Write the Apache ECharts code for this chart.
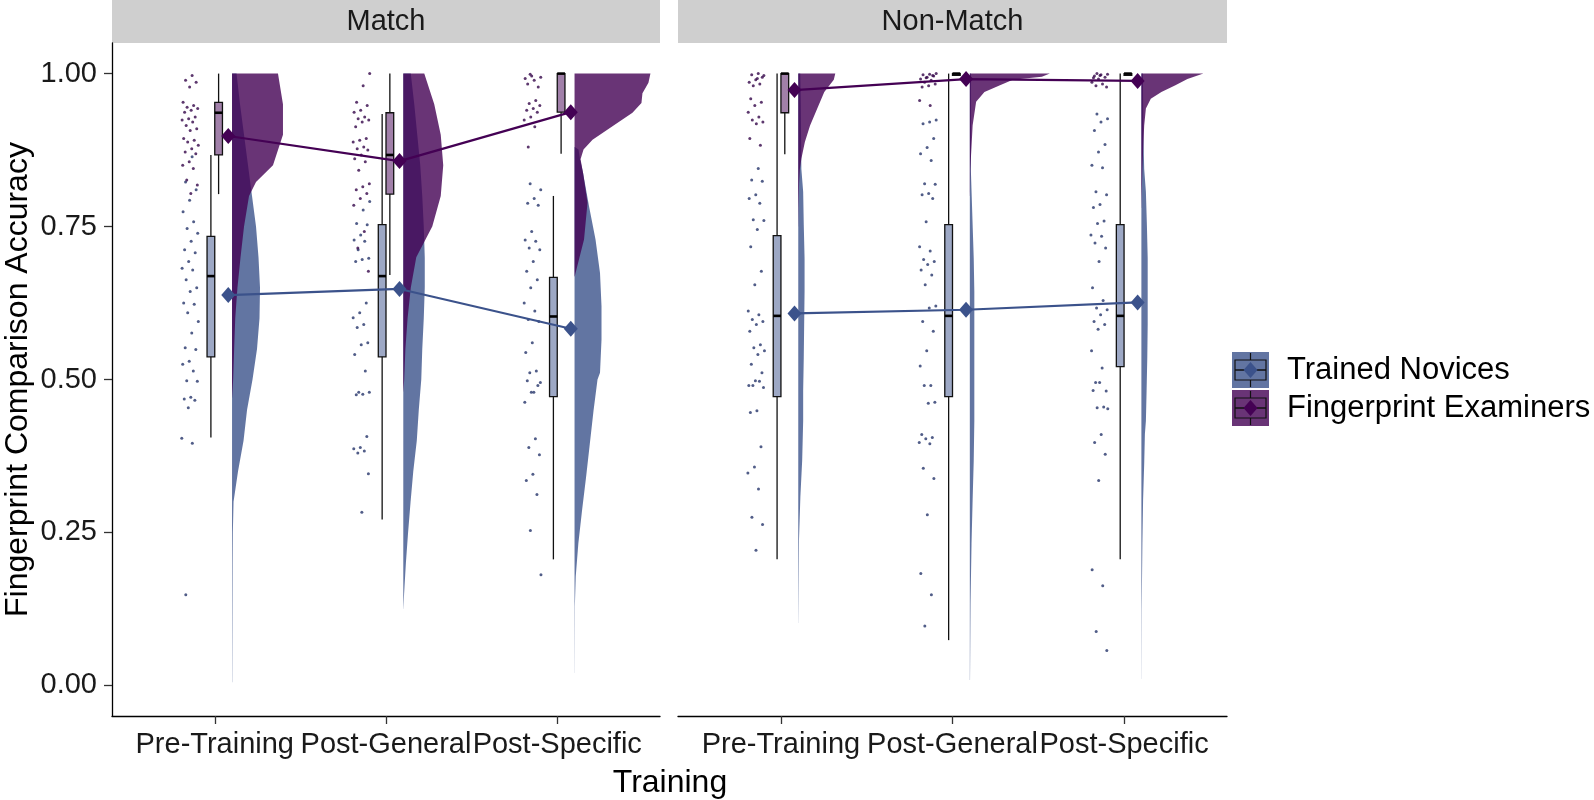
<!DOCTYPE html>
<html><head><meta charset="utf-8">
<script src="https://cdn.jsdelivr.net/npm/echarts@6.0.0/dist/echarts.min.js"></script>
<style>html,body{margin:0;padding:0;background:#fff}#c{width:1594px;height:800px}</style>
</head><body><div id="c"></div>
<script>
// ---------------- data ----------------
const categories = ['Pre-Training', 'Post-General', 'Post-Specific'];
const panels = ['Match', 'Non-Match'];
const groups = ['Trained Novices', 'Fingerprint Examiners'];
const yTicks = [0, 0.25, 0.5, 0.75, 1];

// group means
const matchNoviceMean = [0.638, 0.648, 0.583];
const matchExaminerMean = [0.898, 0.857, 0.937];
const nonMatchNoviceMean = [0.608, 0.614, 0.626];
const nonMatchExaminerMean = [0.973, 0.991, 0.988];

// box stats: [lower whisker, Q1, median, Q3, upper whisker]
const matchNoviceBox = [[0.405, 0.537, 0.669, 0.734, 0.867], [0.271, 0.537, 0.669, 0.753, 0.934], [0.206, 0.472, 0.603, 0.667, 0.800]];
const matchExaminerBox = [[0.803, 0.867, 0.936, 0.953, 1.0], [0.671, 0.803, 0.867, 0.936, 1.0], [0.869, 0.937, 1.0, 1.0, 1.0]];
const nonMatchNoviceBox = [[0.206, 0.472, 0.604, 0.735, 1.0], [0.074, 0.472, 0.604, 0.753, 1.0], [0.206, 0.521, 0.604, 0.753, 1.0]];
const nonMatchExaminerBox = [[0.868, 0.936, 1.0, 1.0, 1.0], [0.997, 0.997, 1.0, 1.0, 1.0], [0.997, 0.997, 1.0, 1.0, 1.0]];

// half-violin density profiles: [accuracy, density width]
const matchNoviceViolin = [
  [[1.0, 4.5], [0.95, 8], [0.9, 12], [0.85, 16], [0.8, 20], [0.75, 24], [0.7, 26.5], [0.65, 28], [0.6, 27.5], [0.55, 25], [0.5, 20.5], [0.45, 15], [0.4, 11.5], [0.35, 6], [0.3, 1.5], [0.25, 0.8], [0.2, 0.6], [0.1, 0.4], [0.005, 0.2]],
  [[1.0, 7.5], [0.95, 11], [0.9, 14], [0.85, 17], [0.8, 19], [0.75, 20.5], [0.7, 21.5], [0.65, 21.5], [0.6, 20.5], [0.55, 19], [0.5, 18], [0.45, 15.5], [0.4, 13.5], [0.35, 10], [0.3, 7.3], [0.25, 4.8], [0.2, 2.6], [0.15, 0.8], [0.125, 0.1]],
  [[0.88, 0.3], [0.876, 4], [0.86, 5.5], [0.838, 8.5], [0.783, 14.5], [0.729, 21], [0.674, 25.5], [0.62, 27], [0.565, 27], [0.511, 25.5], [0.5, 23], [0.449, 19], [0.395, 15.3], [0.34, 11.5], [0.286, 7.5], [0.232, 3.8], [0.178, 1.2], [0.129, 0.3], [0.02, 0.1]]
];
const matchExaminerViolin = [
  [[1.0, 46], [0.95, 51], [0.9, 51], [0.85, 41], [0.823, 24], [0.8, 17], [0.75, 12], [0.7, 8.5], [0.65, 5.4], [0.6, 3.2], [0.55, 2.1], [0.5, 1.1], [0.47, 0.1]],
  [[1.0, 21], [0.95, 31], [0.9, 37.5], [0.85, 40], [0.8, 37.5], [0.75, 29], [0.7, 13], [0.65, 7.5], [0.6, 4.3], [0.55, 2.1], [0.5, 0.9], [0.48, 0.1]],
  [[1.0, 76], [0.985, 74], [0.968, 68], [0.952, 67], [0.936, 58], [0.914, 38], [0.892, 18], [0.876, 9], [0.86, 6], [0.838, 8.5], [0.789, 13], [0.729, 9.5], [0.674, 1], [0.668, 0.1]]
];
const nonMatchNoviceViolin = [
  [[1.0, 2], [0.95, 2.5], [0.9, 2.8], [0.844, 3.1], [0.807, 4.9], [0.753, 5.5], [0.698, 6.3], [0.644, 6.3], [0.59, 5.9], [0.536, 5.5], [0.481, 4.9], [0.432, 4.9], [0.367, 3.9], [0.308, 2.1], [0.237, 0.7], [0.145, 0.3], [0.102, 0.1]],
  [[1.0, 1.2], [0.9, 1.2], [0.844, 1.0], [0.753, 2.8], [0.698, 3.9], [0.644, 4.5], [0.59, 4.5], [0.536, 4.5], [0.481, 4.5], [0.432, 4.5], [0.367, 3.9], [0.303, 2.8], [0.232, 1.7], [0.134, 0.7], [0.009, 0.2]],
  [[1.0, 1.5], [0.9, 2], [0.844, 2.8], [0.807, 4.5], [0.753, 5.5], [0.698, 6.3], [0.644, 6.3], [0.59, 6.3], [0.536, 5.9], [0.481, 5.2], [0.432, 4.5], [0.411, 3.5], [0.362, 2.8], [0.303, 1.7], [0.232, 1], [0.124, 0.3], [0.01, 0.1]]
];
const nonMatchExaminerViolin = [
  [[1.0, 37], [0.99, 35.5], [0.97, 26], [0.943, 19], [0.915, 11.8], [0.888, 6.6], [0.861, 3.1], [0.844, 1.6], [0.82, 0.8], [0.78, 0.3], [0.75, 0.1]],
  [[1.0, 80], [0.995, 72], [0.99, 43], [0.98, 29], [0.97, 14.6], [0.954, 6.3], [0.915, 2.8], [0.86, 1], [0.84, 0.5], [0.8, 0.1]],
  [[1.0, 62], [0.991, 46], [0.981, 34], [0.97, 20], [0.959, 9.4], [0.943, 4.5], [0.915, 2.8], [0.888, 2.1], [0.844, 1], [0.8, 0.3], [0.78, 0.1]]
];

// individual participant scores
const matchNoviceDots = [
  [0.864, 0.823, 0.810, 0.793, 0.774, 0.758, 0.747, 0.739, 0.726, 0.712, 0.707, 0.693, 0.682, 0.679, 0.663, 0.650, 0.644, 0.625, 0.623, 0.609, 0.595, 0.576, 0.552, 0.549, 0.530, 0.525, 0.514, 0.498, 0.497, 0.471, 0.468, 0.466, 0.454, 0.404, 0.396, 0.148],
  [0.791, 0.777, 0.755, 0.753, 0.736, 0.728, 0.726, 0.712, 0.698, 0.696, 0.693, 0.625, 0.609, 0.601, 0.590, 0.585, 0.560, 0.557, 0.541, 0.514, 0.479, 0.479, 0.476, 0.475, 0.407, 0.389, 0.387, 0.383, 0.380, 0.346, 0.283],
  [0.820, 0.810, 0.796, 0.788, 0.785, 0.742, 0.728, 0.726, 0.715, 0.712, 0.693, 0.677, 0.663, 0.650, 0.625, 0.612, 0.598, 0.595, 0.560, 0.544, 0.514, 0.511, 0.495, 0.479, 0.498, 0.490, 0.479, 0.463, 0.403, 0.389, 0.377, 0.345, 0.335, 0.312, 0.253, 0.181]
];
const matchExaminerDots = [
  [0.997, 0.989, 0.986, 0.978, 0.953, 0.948, 0.945, 0.943, 0.940, 0.937, 0.929, 0.926, 0.924, 0.921, 0.915, 0.910, 0.907, 0.894, 0.891, 0.888, 0.883, 0.877, 0.872, 0.869, 0.856, 0.850, 0.845, 0.826, 0.818, 0.804],
  [1.0, 0.980, 0.953, 0.948, 0.940, 0.937, 0.929, 0.926, 0.924, 0.921, 0.913, 0.894, 0.891, 0.888, 0.880, 0.877, 0.875, 0.867, 0.861, 0.856, 0.842, 0.820, 0.815, 0.810, 0.804, 0.796, 0.785, 0.742, 0.715, 0.677],
  [0.999, 0.994, 0.989, 0.983, 0.978, 0.996, 0.992, 0.956, 0.951, 0.948, 0.943, 0.940, 0.937, 0.929, 0.924, 0.913, 0.880]
];
const nonMatchNoviceDots = [
  [0.845, 0.826, 0.824, 0.802, 0.796, 0.788, 0.761, 0.760, 0.745, 0.717, 0.677, 0.655, 0.612, 0.606, 0.598, 0.595, 0.590, 0.579, 0.557, 0.552, 0.547, 0.541, 0.525, 0.511, 0.498, 0.490, 0.497, 0.490, 0.487, 0.449, 0.446, 0.390, 0.357, 0.347, 0.321, 0.275, 0.263, 0.221],
  [0.924, 0.921, 0.918, 0.894, 0.879, 0.869, 0.858, 0.820, 0.819, 0.804, 0.802, 0.796, 0.758, 0.717, 0.710, 0.696, 0.693, 0.688, 0.679, 0.671, 0.655, 0.620, 0.617, 0.595, 0.579, 0.547, 0.522, 0.490, 0.490, 0.463, 0.461, 0.410, 0.405, 0.403, 0.397, 0.395, 0.355, 0.338, 0.279, 0.183, 0.148, 0.097],
  [0.934, 0.926, 0.921, 0.907, 0.884, 0.872, 0.850, 0.846, 0.807, 0.802, 0.786, 0.781, 0.759, 0.755, 0.736, 0.734, 0.723, 0.715, 0.693, 0.650, 0.629, 0.617, 0.614, 0.606, 0.595, 0.590, 0.582, 0.547, 0.519, 0.495, 0.481, 0.495, 0.482, 0.455, 0.454, 0.452, 0.410, 0.397, 0.378, 0.335, 0.189, 0.163, 0.088, 0.057]
];
const nonMatchExaminerDots = [
  [1.0, 0.998, 0.994, 0.990, 0.986, 0.983, 0.980, 0.997, 0.992, 0.959, 0.953, 0.948, 0.937, 0.929, 0.924, 0.921, 0.918, 0.894, 0.883],
  [1.0, 0.999, 0.998, 0.996, 0.994, 0.991, 0.989, 0.986, 0.983, 0.980, 0.978, 0.997, 0.993, 0.956, 0.948],
  [1.0, 0.999, 0.998, 0.996, 0.994, 0.991, 0.986, 0.983, 0.980, 0.978, 0.997, 0.993]
];

// ---------------- layout / style ----------------
const NOVICE = '#3B528B', EXAMINER = '#440154';
const NOVICE_DOT = '#25346a', EXAMINER_DOT = '#35064a';
const NOVICE_VIOLIN = 'rgba(59,82,139,0.8)', EXAMINER_VIOLIN = 'rgba(68,1,84,0.8)';
const NOVICE_BOX = 'rgba(59,82,139,0.5)', EXAMINER_BOX = 'rgba(68,1,84,0.5)';
const FONT = 'Liberation Sans, Arial, sans-serif';
const MEAN_OFFSET = 0.079, VIOLIN_OFFSET = 0.101, DOT_OFFSET = -0.144, JITTER = 0.05;
const BOX_HALF = 0.0225, NOVICE_BOX_OFFSET = -0.0225, EXAMINER_BOX_OFFSET = 0.0225;
const WIDTH_SCALE = 1 / 171.5;
const GRIDS = [{ left: 112, top: 43, width: 548, height: 673 }, { left: 678, top: 43, width: 549, height: 673 }];

function violinSeries(gi, profiles, fill, z) {
  return {
    type: 'custom', xAxisIndex: gi, yAxisIndex: gi, z: z, silent: true,
    data: categories.map((c, i) => [i + 1]),
    renderItem: (params, api) => {
      const prof = profiles[params.dataIndex];
      const x0 = api.value(0) + VIOLIN_OFFSET;
      const pts = [api.coord([x0, prof[0][0]])];
      prof.forEach(p => pts.push(api.coord([x0 + p[1] * WIDTH_SCALE, p[0]])));
      pts.push(api.coord([x0, prof[prof.length - 1][0]]));
      return { type: 'polygon', shape: { points: pts }, style: { fill: fill, stroke: null } };
    }
  };
}
function boxSeries(gi, stats, fill, offset) {
  return {
    type: 'custom', xAxisIndex: gi, yAxisIndex: gi, z: 3, silent: true,
    data: categories.map((c, i) => [i + 1]),
    renderItem: (params, api) => {
      const s = stats[params.dataIndex];
      const xc = api.value(0) + offset;
      const tl = api.coord([xc - BOX_HALF, s[3]]), br = api.coord([xc + BOX_HALF, s[1]]);
      const top = api.coord([xc, s[4]]), bot = api.coord([xc, s[0]]);
      const mL = api.coord([xc - BOX_HALF, s[2]]), mR = api.coord([xc + BOX_HALF, s[2]]);
      const ls = { stroke: '#111', lineWidth: 1.3 };
      return { type: 'group', children: [
        { type: 'line', shape: { x1: top[0], y1: top[1], x2: top[0], y2: tl[1] }, style: ls },
        { type: 'line', shape: { x1: bot[0], y1: br[1], x2: bot[0], y2: bot[1] }, style: ls },
        { type: 'rect', shape: { x: tl[0], y: tl[1], width: br[0] - tl[0], height: Math.max(br[1] - tl[1], 0.5) }, style: { fill: fill, stroke: '#111', lineWidth: 1.3 } },
        { type: 'line', shape: { x1: mL[0], y1: mL[1], x2: mR[0], y2: mR[1] }, style: { stroke: '#000', lineWidth: 2.6 } }
      ] };
    }
  };
}
function dotSeries(gi, cols, color) {
  const data = [];
  cols.forEach((col, i) => col.forEach((v, k) => {
    const u = ((k + 1) * 0.6180339887 + i * 0.37) % 1;
    data.push([i + 1 + DOT_OFFSET + (u - 0.5) * 2 * JITTER, v]);
  }));
  return { type: 'scatter', xAxisIndex: gi, yAxisIndex: gi, z: 4, silent: true, data: data,
    symbol: 'circle', symbolSize: 3, itemStyle: { color: color } };
}
function meanSeries(gi, means, color) {
  return { type: 'line', xAxisIndex: gi, yAxisIndex: gi, z: 6, silent: true,
    data: means.map((m, i) => [i + 1 + MEAN_OFFSET, m]),
    symbol: 'diamond', symbolSize: [14, 16], showSymbol: true,
    lineStyle: { color: color, width: 2.2 }, itemStyle: { color: color } };
}

const series = [
  violinSeries(0, matchNoviceViolin, NOVICE_VIOLIN, 1),
  violinSeries(0, matchExaminerViolin, EXAMINER_VIOLIN, 2),
  violinSeries(1, nonMatchNoviceViolin, NOVICE_VIOLIN, 1),
  violinSeries(1, nonMatchExaminerViolin, EXAMINER_VIOLIN, 2),
  boxSeries(0, matchNoviceBox, NOVICE_BOX, NOVICE_BOX_OFFSET),
  boxSeries(0, matchExaminerBox, EXAMINER_BOX, EXAMINER_BOX_OFFSET),
  boxSeries(1, nonMatchNoviceBox, NOVICE_BOX, NOVICE_BOX_OFFSET),
  boxSeries(1, nonMatchExaminerBox, EXAMINER_BOX, EXAMINER_BOX_OFFSET),
  dotSeries(0, matchNoviceDots, NOVICE_DOT),
  dotSeries(0, matchExaminerDots, EXAMINER_DOT),
  dotSeries(1, nonMatchNoviceDots, NOVICE_DOT),
  dotSeries(1, nonMatchExaminerDots, EXAMINER_DOT),
  meanSeries(0, matchNoviceMean, NOVICE),
  meanSeries(0, matchExaminerMean, EXAMINER),
  meanSeries(1, nonMatchNoviceMean, NOVICE),
  meanSeries(1, nonMatchExaminerMean, EXAMINER)
];

function xAxis(gi) {
  return { gridIndex: gi, type: 'value', min: 0.4, max: 3.6,
    axisLine: { show: true, onZero: false, lineStyle: { color: '#000', width: 1.3 } },
    axisTick: { show: true, length: 8, customValues: [1, 2, 3], lineStyle: { color: '#333', width: 1.3 } },
    axisLabel: { customValues: [1, 2, 3], hideOverlap: false, showMinLabel: true, showMaxLabel: true,
      formatter: v => categories[Math.round(v) - 1], fontSize: 29, color: '#1a1a1a', fontFamily: FONT, margin: 14 },
    splitLine: { show: false } };
}

const graphics = [];
GRIDS.forEach((g, i) => {
  graphics.push({ type: 'rect', shape: { x: g.left, y: 0, width: g.width, height: 43 }, style: { fill: '#cfcfcf' }, silent: true });
  graphics.push({ type: 'text', x: g.left + g.width / 2, y: 22, style: { text: panels[i], fontSize: 29, fontFamily: FONT, fill: '#1a1a1a', textAlign: 'center', textVerticalAlign: 'middle' }, silent: true });
});
graphics.push({ type: 'text', x: 670, y: 783, style: { text: 'Training', fontSize: 32, fontFamily: FONT, fill: '#000', textAlign: 'center', textVerticalAlign: 'middle' } });
// legend
const legendKeys = [{ fill: 'rgb(98,117,162)', mark: NOVICE }, { fill: 'rgb(105,52,118)', mark: EXAMINER }];
legendKeys.forEach((k, i) => {
  const y0 = 352 + i * 38, x0 = 1232, w = 37, h = 36;
  graphics.push({ type: 'rect', shape: { x: x0, y: y0, width: w, height: h }, style: { fill: k.fill } });
  graphics.push({ type: 'line', shape: { x1: x0 + w / 2, y1: y0 + 1, x2: x0 + w / 2, y2: y0 + h - 1 }, style: { stroke: '#111', lineWidth: 1.2 } });
  graphics.push({ type: 'rect', shape: { x: x0 + 3, y: y0 + 8, width: w - 6, height: h - 16 }, style: { fill: k.fill, stroke: '#111', lineWidth: 1.2 } });
  graphics.push({ type: 'line', shape: { x1: x0 + 3, y1: y0 + h / 2, x2: x0 + w - 3, y2: y0 + h / 2 }, style: { stroke: '#111', lineWidth: 1.5 } });
  graphics.push({ type: 'polygon', shape: { points: [[x0 + w / 2, y0 + h / 2 - 8], [x0 + w / 2 + 7, y0 + h / 2], [x0 + w / 2, y0 + h / 2 + 8], [x0 + w / 2 - 7, y0 + h / 2]] }, style: { fill: k.mark } });
  graphics.push({ type: 'text', x: 1287, y: y0 + h / 2, style: { text: groups[i], fontSize: 31, fontFamily: FONT, fill: '#000', textVerticalAlign: 'middle' } });
});

const option = {
  animation: false,
  backgroundColor: '#fff',
  grid: GRIDS.map(g => Object.assign({ containLabel: false }, g)),
  xAxis: [xAxis(0), xAxis(1)],
  yAxis: [
    { gridIndex: 0, type: 'value', min: -0.05, max: 1.05,
      name: 'Fingerprint Comparison Accuracy', nameLocation: 'middle', nameGap: 78,
      nameTextStyle: { fontSize: 32, fontFamily: FONT, color: '#000' },
      axisLine: { show: true, onZero: false, lineStyle: { color: '#000', width: 1.3 } },
      axisTick: { show: true, length: 8, customValues: yTicks, lineStyle: { color: '#333', width: 1.3 } },
      axisLabel: { customValues: yTicks, hideOverlap: false, formatter: v => v.toFixed(2), fontSize: 29, color: '#1a1a1a', fontFamily: FONT, margin: 15 },
      splitLine: { show: false } },
    { gridIndex: 1, type: 'value', min: -0.05, max: 1.05, show: false, splitLine: { show: false } }
  ],
  series: series,
  graphic: graphics
};
const chart = echarts.init(document.getElementById('c'), null, { renderer: 'canvas' });
chart.setOption(option);
</script></body></html>
